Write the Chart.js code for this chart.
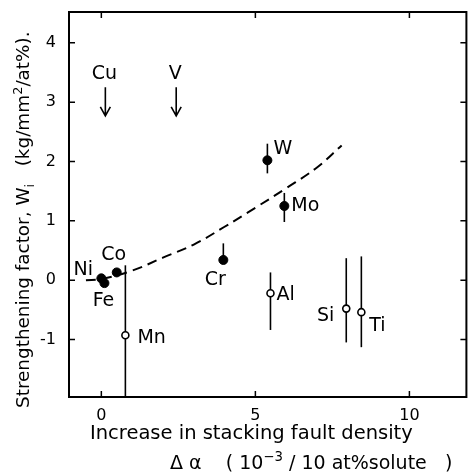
<!DOCTYPE html>
<html>
<head>
<meta charset="utf-8">
<script src="https://cdn.jsdelivr.net/npm/chart.js@4.4.1/dist/chart.umd.min.js"></script>
<style>
html,body{margin:0;padding:0;background:#fff;overflow:hidden}
canvas{display:block}
</style>
</head>
<body>
<canvas id="chart" width="472" height="475"></canvas>
<script>
// solutes, stacking fault increase and strengthening factor
var solutes = ["Ni","Fe","Co","Mn","Cr","W","Mo","Al","Si","Ti"];
var deltaAlpha = [0.0, 0.1, 0.5, 0.78, 3.96, 5.39, 5.94, 5.49, 7.95, 8.44];
var strengthening = [0.03, -0.05, 0.13, -0.93, 0.34, 2.02, 1.25, -0.22, -0.48, -0.54];
var errHigh = [null, null, null, 0.25, 0.62, 2.3, 1.47, 0.13, 0.37, 0.4];
var errLow = [null, null, null, -1.97, 0.3, 1.8, 0.98, -0.84, -1.05, -1.13];
var filled = [true, true, true, false, true, true, true, false, false, false];

// dashed trend curve
var curveX = [-0.5, 0, 1, 2, 3, 4, 5, 6, 7, 7.8];
var curveY = [0.0, 0.02, 0.16, 0.38, 0.6, 0.9, 1.22, 1.55, 1.9, 2.27];

// off-scale solutes shown as arrows
var arrowNames = ["Cu","V"];
var arrowX = [0.13, 2.43];
var arrowTop = 3.25;
var arrowBottom = 2.77;

var xTicks = [0, 5, 10];
var yTicks = [-1, 0, 1, 2, 3, 4];

// label placement (pixel offsets from the point)
var labelOffsets = {
    Ni: [-18, -8, "center"], Fe: [-1, 18, "center"], Co: [-3, -17, "center"],
    Mn: [12, 3, "left"], Cr: [-8, 20, "center"], W: [6, -11, "left"],
    Mo: [7, 0, "left"], Al: [6, 2, "left"], Si: [-12, 7, "right"], Ti: [8, 14, "left"]
};

var FONT = "'DejaVu Sans', sans-serif";

function pts(mask) {
    var out = [];
    for (var i = 0; i < solutes.length; i++) {
        if (filled[i] == mask) out.push({x: deltaAlpha[i], y: strengthening[i]});
    }
    return out;
}

function richText(ctx, x, y, parts, size) {
    // parts: [text, mode] mode: 0 normal, 1 sup, -1 sub
    var cx = x;
    parts.forEach(function (p) {
        var s = p[1] == 0 ? size : size * 0.7;
        ctx.font = s + "px " + FONT;
        var dy = p[1] == 1 ? -size * 0.4 : (p[1] == -1 ? size * 0.25 : 0);
        ctx.fillText(p[0], cx, y + dy);
        cx += ctx.measureText(p[0]).width;
    });
}

var decorations = {
    id: "decorations",
    beforeDatasetsDraw: function (chart) {
        var ctx = chart.ctx, xs = chart.scales.x, ys = chart.scales.y;
        ctx.save();
        ctx.strokeStyle = "#000";
        ctx.lineWidth = 1.6;
        for (var i = 0; i < solutes.length; i++) {
            if (errHigh[i] == null) continue;
            var px = xs.getPixelForValue(deltaAlpha[i]);
            ctx.beginPath();
            ctx.moveTo(px, ys.getPixelForValue(errHigh[i]));
            ctx.lineTo(px, ys.getPixelForValue(errLow[i]));
            ctx.stroke();
        }
        ctx.restore();
    },
    afterDraw: function (chart) {
        var ctx = chart.ctx, a = chart.chartArea, xs = chart.scales.x, ys = chart.scales.y;
        ctx.save();
        ctx.strokeStyle = "#000";
        ctx.fillStyle = "#000";
        // frame
        ctx.lineWidth = 2;
        ctx.strokeRect(a.left, a.top, a.right - a.left, a.bottom - a.top);
        // inward ticks
        ctx.lineWidth = 1.5;
        xTicks.forEach(function (v) {
            var px = xs.getPixelForValue(v);
            ctx.beginPath();
            ctx.moveTo(px, a.bottom); ctx.lineTo(px, a.bottom - 6);
            ctx.moveTo(px, a.top); ctx.lineTo(px, a.top + 6);
            ctx.stroke();
        });
        yTicks.forEach(function (v) {
            var py = ys.getPixelForValue(v);
            ctx.beginPath();
            ctx.moveTo(a.left, py); ctx.lineTo(a.left + 6, py);
            ctx.moveTo(a.right, py); ctx.lineTo(a.right - 6, py);
            ctx.stroke();
        });
        // point labels
        ctx.font = "19px " + FONT;
        ctx.textBaseline = "middle";
        for (var i = 0; i < solutes.length; i++) {
            var o = labelOffsets[solutes[i]];
            ctx.textAlign = o[2];
            ctx.fillText(solutes[i], xs.getPixelForValue(deltaAlpha[i]) + o[0], ys.getPixelForValue(strengthening[i]) + o[1]);
        }
        // arrows
        ctx.lineWidth = 1.6;
        ctx.textAlign = "center";
        for (var j = 0; j < arrowNames.length; j++) {
            var ax = xs.getPixelForValue(arrowX[j]);
            var t = ys.getPixelForValue(arrowTop), b = ys.getPixelForValue(arrowBottom);
            ctx.beginPath();
            ctx.moveTo(ax, t); ctx.lineTo(ax, b);
            ctx.moveTo(ax - 5, b - 9); ctx.lineTo(ax, b); ctx.lineTo(ax + 5, b - 9);
            ctx.stroke();
            ctx.fillText(arrowNames[j], ax - 1, t - 13);
        }
        // axis titles
        ctx.textAlign = "left";
        ctx.textBaseline = "alphabetic";
        ctx.font = "19.5px " + FONT;
        ctx.fillText("Increase in stacking fault density", 90, 439);
        richText(ctx, 170, 469, [["\u0394 \u03b1    ( 10", 0], ["\u22123", 1], [" / 10 at%solute   )", 0]], 19);
        ctx.translate(29, 408);
        ctx.rotate(-Math.PI / 2);
        richText(ctx, 0, 0, [["Strengthening factor, W", 0], ["i", -1], ["   (kg/mm", 0], ["2", 1], ["/at%).", 0]], 18.4);
        ctx.restore();
    }
};

new Chart(document.getElementById("chart"), {
    type: "scatter",
    data: {
        datasets: [{
            type: "line",
            data: curveX.map(function (x, i) { return {x: x, y: curveY[i]}; }),
            borderColor: "#000",
            borderWidth: 2,
            borderDash: [10, 6],
            tension: 0.4,
            pointRadius: 0,
            fill: false
        }, {
            data: pts(true),
            pointRadius: 4.5,
            pointBackgroundColor: "#000",
            pointBorderColor: "#000",
            pointBorderWidth: 1
        }, {
            data: pts(false),
            pointRadius: 3.5,
            pointBackgroundColor: "#fff",
            pointBorderColor: "#000",
            pointBorderWidth: 1.6
        }]
    },
    options: {
        responsive: false,
        animation: false,
        layout: {padding: {left: 0, right: 2, top: 12, bottom: 0}},
        plugins: {legend: {display: false}, tooltip: {enabled: false}},
        scales: {
            x: {
                type: "linear", min: -1.05, max: 11.85,
                grid: {display: false}, border: {display: false},
                afterBuildTicks: function (s) { s.ticks = xTicks.map(function (v) { return {value: v}; }); },
                afterFit: function (s) { s.height = 78; s.paddingLeft = 0; s.paddingRight = 0; },
                ticks: {color: "#000", padding: 1, maxRotation: 0, font: {size: 16, family: FONT}}
            },
            y: {
                type: "linear", min: -1.97, max: 4.52,
                grid: {display: false}, border: {display: false},
                afterBuildTicks: function (s) { s.ticks = yTicks.map(function (v) { return {value: v}; }); },
                afterFit: function (s) { s.width = 69; s.paddingTop = 0; s.paddingBottom = 0; },
                ticks: {color: "#000", padding: 5, font: {size: 16, family: FONT}}
            }
        }
    },
    plugins: [decorations]
});
</script>
</body>
</html>
